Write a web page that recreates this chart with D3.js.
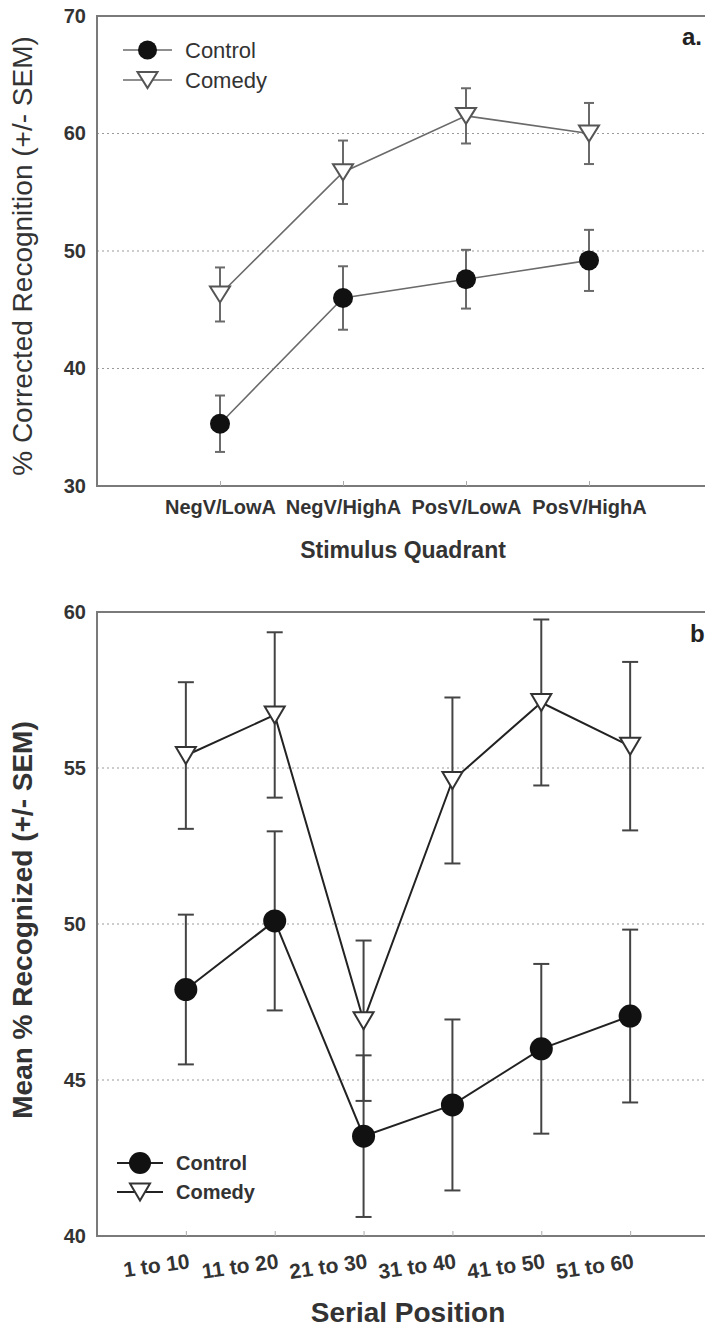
<!DOCTYPE html>
<html>
<head>
<meta charset="utf-8">
<script src="https://cdn.jsdelivr.net/npm/d3@7"></script>
<style>
  html, body { margin: 0; padding: 0; background: #fff; }
  svg { display: block; font-family: "Liberation Sans", Arial, sans-serif; }
</style>
</head>
<body>
<svg id="chart" width="705" height="1329"></svg>
<script>
// ---------- Data ----------
const quadrants = ["NegV/LowA", "NegV/HighA", "PosV/LowA", "PosV/HighA"];
const quadControl = [35.3, 46.0, 47.6, 49.2];
const quadControlSem = [2.4, 2.7, 2.5, 2.6];
const quadComedy = [46.3, 56.7, 61.5, 60.0];
const quadComedySem = [2.3, 2.7, 2.35, 2.6];
const quadTicks = [30, 40, 50, 60, 70];

const serial = ["1 to 10", "11 to 20", "21 to 30", "31 to 40", "41 to 50", "51 to 60"];
const serialControl = [47.9, 50.1, 43.2, 44.2, 46.0, 47.05];
const serialControlSem = [2.4, 2.87, 2.59, 2.74, 2.72, 2.77];
const serialComedy = [55.4, 56.7, 46.9, 54.6, 57.1, 55.7];
const serialComedySem = [2.35, 2.65, 2.57, 2.66, 2.66, 2.7];
const serialTicks = [40, 45, 50, 55, 60];

const seriesNames = ["Control", "Comedy"];

const svg = d3.select("#chart");

function triPath(w, h) {
  return `M${-w/2},${-h/2}L${w/2},${-h/2}L0,${h/2}Z`;
}

function drawPanel(opt) {
  const g = svg.append("g");
  const x = d3.scalePoint().domain(opt.cats).range([opt.left, opt.right]).padding(1);
  const y = d3.scaleLinear().domain(opt.ydomain).range([opt.bottom, opt.top]);

  // gridlines
  g.append("g").selectAll("line")
    .data(opt.ticks.filter(t => t !== opt.ydomain[0] && t !== opt.ydomain[1]))
    .join("line")
    .attr("x1", opt.left).attr("x2", 705)
    .attr("y1", d => y(d)).attr("y2", d => y(d))
    .attr("stroke", "#9a9a9a").attr("stroke-width", 1.2)
    .attr("stroke-dasharray", "2,3");

  // frame
  g.append("path")
    .attr("d", `M${opt.right},${opt.top}H${opt.left}V${opt.bottom}H${opt.right}`)
    .attr("fill", "none").attr("stroke", "#7a7a7a").attr("stroke-width", 2);

  // y axis
  const ya = g.append("g").attr("transform", `translate(${opt.left},0)`)
    .call(d3.axisLeft(y).tickValues(opt.ticks).tickSize(0).tickPadding(11).tickFormat(d3.format("d")));
  ya.select(".domain").remove();
  ya.selectAll("text").attr("font-size", 20).attr("font-weight", "bold").attr("fill", "#333")
    .attr("font-family", "Liberation Sans, Arial, sans-serif");

  // x axis
  const xa = g.append("g").attr("transform", `translate(0,${opt.bottom})`)
    .call(d3.axisBottom(x).tickSize(-5).tickPadding(8));
  xa.select(".domain").remove();
  xa.selectAll(".tick line").attr("stroke", "#aaa").attr("stroke-width", 1);
  const xt = xa.selectAll("text").attr("font-size", opt.xFont).attr("font-weight", "bold").attr("fill", "#333")
    .attr("font-family", "Liberation Sans, Arial, sans-serif");
  if (opt.rotateX) {
    xt.attr("text-anchor", "end").attr("y", 0).attr("dy", 0)
      .attr("transform", "translate(4,32) rotate(-8)");
  } else {
    xt.attr("y", 28).attr("dy", 0);
  }

  // axis titles
  g.append("text").attr("x", opt.xTitleX).attr("y", opt.xTitleY)
    .attr("text-anchor", "middle").attr("font-size", opt.xTitleSize).attr("font-weight", "bold").attr("fill", "#333")
    .text(opt.xTitle);
  g.append("text").attr("transform", `translate(${opt.yTitleX},${opt.yTitleY}) rotate(-90)`)
    .attr("text-anchor", "middle").attr("font-size", opt.yTitleSize).attr("font-weight", opt.yTitleWeight).attr("fill", "#333")
    .text(opt.yTitle);

  // panel letter
  g.append("text").attr("x", opt.letterX).attr("y", opt.letterY)
    .attr("font-size", 24).attr("font-weight", "bold").attr("fill", "#222").text(opt.letter);

  const series = [
    {name: seriesNames[0], vals: opt.control, sem: opt.controlSem, type: "circle"},
    {name: seriesNames[1], vals: opt.comedy, sem: opt.comedySem, type: "tri"}
  ];
  const line = d3.line().x((d, i) => x(opt.cats[i])).y(d => y(d));

  series.forEach(s => {
    const sg = g.append("g");
    sg.append("path").attr("d", line(s.vals)).attr("fill", "none")
      .attr("stroke", opt.lineColor).attr("stroke-width", opt.lineWidth);
    const eb = sg.selectAll("g.eb").data(s.vals).join("g").attr("class", "eb");
    eb.append("line")
      .attr("x1", (d, i) => x(opt.cats[i])).attr("x2", (d, i) => x(opt.cats[i]))
      .attr("y1", (d, i) => y(d + s.sem[i])).attr("y2", (d, i) => y(d - s.sem[i]))
      .attr("stroke", opt.errColor).attr("stroke-width", opt.errWidth);
    [1, -1].forEach(sign => {
      eb.append("line")
        .attr("x1", (d, i) => x(opt.cats[i]) - opt.cap).attr("x2", (d, i) => x(opt.cats[i]) + opt.cap)
        .attr("y1", (d, i) => y(d + sign * s.sem[i])).attr("y2", (d, i) => y(d + sign * s.sem[i]))
        .attr("stroke", opt.errColor).attr("stroke-width", opt.errWidth);
    });
  });
  series.forEach(s => {
    const mg = g.append("g");
    if (s.type === "circle") {
      mg.selectAll("circle").data(s.vals).join("circle")
        .attr("cx", (d, i) => x(opt.cats[i])).attr("cy", d => y(d))
        .attr("r", opt.r).attr("fill", "#111");
    } else {
      mg.selectAll("path").data(s.vals).join("path")
        .attr("d", triPath(opt.triW, opt.triH))
        .attr("transform", (d, i) => `translate(${x(opt.cats[i])},${y(d)})`)
        .attr("fill", "#fff").attr("stroke", opt.triStroke).attr("stroke-width", 2);
    }
  });

  // legend
  const lg = g.append("g");
  series.forEach((s, k) => {
    const ly = opt.legY + k * opt.legGap;
    lg.append("line").attr("x1", opt.legX1).attr("x2", opt.legX2).attr("y1", ly).attr("y2", ly)
      .attr("stroke", opt.lineColor).attr("stroke-width", opt.lineWidth);
    const cx = (opt.legX1 + opt.legX2) / 2;
    if (s.type === "circle") {
      lg.append("circle").attr("cx", cx).attr("cy", ly).attr("r", opt.r - 0.5).attr("fill", "#111");
    } else {
      lg.append("path").attr("d", triPath(opt.triW, opt.triH)).attr("transform", `translate(${cx},${ly})`)
        .attr("fill", "#fff").attr("stroke", opt.triStroke).attr("stroke-width", 2);
    }
    lg.append("text").attr("x", opt.legTextX).attr("y", ly).attr("dy", "0.35em")
      .attr("font-size", opt.legFont).attr("font-weight", opt.legWeight).attr("fill", "#333").text(s.name);
  });
}

drawPanel({
  cats: quadrants, ydomain: [30, 70], ticks: quadTicks,
  left: 97, right: 712, top: 16, bottom: 486,
  control: quadControl, controlSem: quadControlSem, comedy: quadComedy, comedySem: quadComedySem,
  xFont: 20, rotateX: false,
  xTitle: "Stimulus Quadrant", xTitleX: 403, xTitleY: 558, xTitleSize: 23,
  yTitle: "% Corrected Recognition (+/- SEM)", yTitleX: 32, yTitleY: 256, yTitleSize: 28, yTitleWeight: "normal",
  letter: "a.", letterX: 682, letterY: 45,
  lineColor: "#6a6a6a", lineWidth: 1.6, errColor: "#6a6a6a", errWidth: 2, cap: 5,
  r: 10, triW: 20, triH: 16, triStroke: "#555",
  legY: 50, legGap: 30, legX1: 123, legX2: 172, legTextX: 185, legFont: 22, legWeight: "normal"
});

drawPanel({
  cats: serial, ydomain: [40, 60], ticks: serialTicks,
  left: 97, right: 719, top: 612, bottom: 1236,
  control: serialControl, controlSem: serialControlSem, comedy: serialComedy, comedySem: serialComedySem,
  xFont: 21, rotateX: true,
  xTitle: "Serial Position", xTitleX: 408, xTitleY: 1322, xTitleSize: 28,
  yTitle: "Mean % Recognized (+/- SEM)", yTitleX: 32, yTitleY: 920, yTitleSize: 28, yTitleWeight: "bold",
  letter: "b", letterX: 690, letterY: 642,
  lineColor: "#222", lineWidth: 2, errColor: "#444", errWidth: 2, cap: 8,
  r: 11.5, triW: 20, triH: 17, triStroke: "#333",
  legY: 1163, legGap: 29, legX1: 117, legX2: 163, legTextX: 176, legFont: 20, legWeight: "bold"
});
</script>
</body>
</html>
